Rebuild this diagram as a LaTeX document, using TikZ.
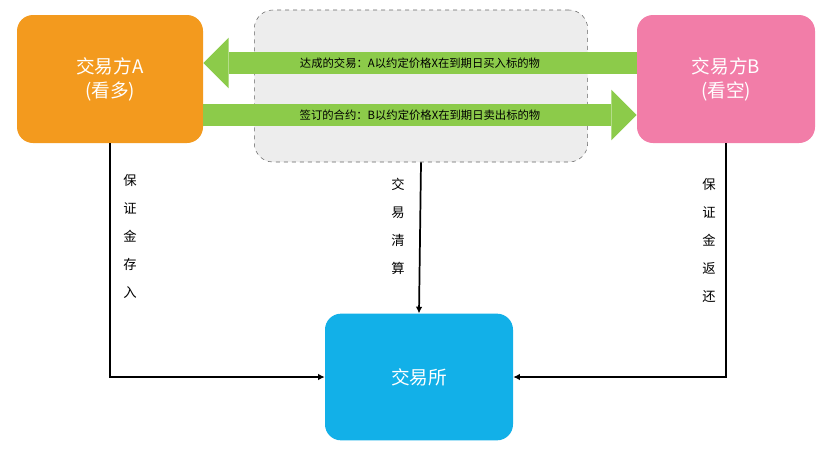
\documentclass[tikz,border=0pt]{standalone}
\usepackage{fontspec}
\newfontfamily\cjk{Noto Sans CJK SC}
\usetikzlibrary{arrows.meta,positioning,calc}
\definecolor{orangeA}{HTML}{F39A1E}
\definecolor{pinkB}{HTML}{F27DA8}
\definecolor{cyanX}{HTML}{12B0E8}
\definecolor{greenArr}{HTML}{8CCB4A}
\definecolor{grayBox}{HTML}{EDEDED}
\tikzset{
    party/.style={rounded corners=12pt, minimum width=139.5pt, minimum height=96pt,
        text=white, align=center, font=\cjk\fontsize{14}{18}\selectfont},
    exch/.style={party, fill=cyanX, minimum width=141pt, minimum height=95pt},
    midbox/.style={draw=gray!80!black, dashed, fill=grayBox, rounded corners=14pt,
        minimum width=250pt, minimum height=114pt},
    flow/.style={draw=greenArr, line width=17pt,
        -{Triangle[length=19pt, width=38pt, line width=0pt]}},
    flowtext/.style={font=\cjk\fontsize{8.5}{9}\selectfont, text=black},
    link/.style={line width=1.3pt, -{Latex[length=5pt, width=5pt]}},
    vlabel/.style={align=center, font=\cjk\fontsize{10}{21}\selectfont}
}
\begin{document}
\begin{tikzpicture}[x=0.75pt, y=-0.75pt]
  \useasboundingbox (0,0) rectangle (817,450);

  \node[midbox] (deal) at (421,86) {};
  \node[party, fill=orangeA] (A) at (110,79) {交易方A\\(看多)};
  \node[party, fill=pinkB, minimum width=133.5pt] (B) at (726,79) {交易方B\\(看空)};
  \node[exch] (X) at (419,377) {交易所};

  % contract flows
  \draw[flow] (B.west |- 0,63) -- node[flowtext] {达成的交易：A以约定价格X在到期日买入标的物} (A.east |- 0,63);
  \draw[flow] (A.east |- 0,115) -- node[flowtext] {签订的合约：B以约定价格X在到期日卖出标的物} (B.west |- 0,115);

  % margin and clearing
  \draw[link] (A.south) |- (X.west);
  \draw[link] (B.south) |- (X.east);
  \draw[link] (deal.south) -- (X.north);

  \node[vlabel] (depA) at (130,236) {保\\证\\金\\存\\入};
  \node[vlabel] (clear) at (398,226) {交\\易\\清\\算};
  \node[vlabel] (depB) at (709,240) {保\\证\\金\\返\\还};
\end{tikzpicture}
\end{document}
